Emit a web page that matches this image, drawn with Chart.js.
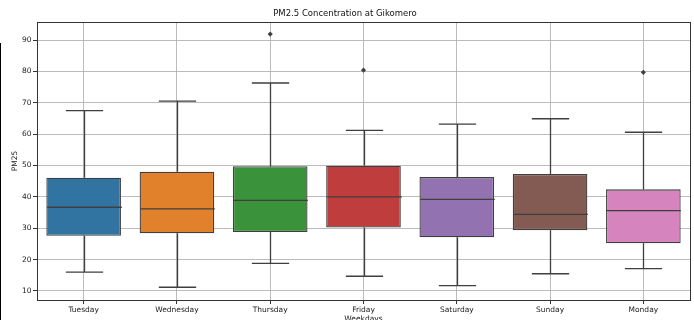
<!DOCTYPE html>
<html>
<head>
<meta charset="utf-8">
<script src="https://cdn.jsdelivr.net/npm/chart.js@4.4.1/dist/chart.umd.min.js"></script>
<style>
    html, body { margin: 0; padding: 0; background: #fff; overflow: hidden; }
    #wrap { position: relative; width: 694px; height: 320px; overflow: hidden; }
    #boxChart { display: block; }
    #edge { position: absolute; left: 0; top: 43px; width: 1px; height: 277px; background: #000; }
</style>
</head>
<body>
<div id="wrap">
    <canvas id="boxChart" width="694" height="330"></canvas>
    <div id="edge"></div>
</div>
<script>
// Box plot values (PM25 by weekday)
var days = ['Tuesday', 'Wednesday', 'Thursday', 'Friday', 'Saturday', 'Sunday', 'Monday'];
var lowWhisker = [16.0, 11.2, 18.8, 14.7, 11.7, 15.5, 17.1];
var q1 = [27.6, 28.4, 28.8, 30.2, 27.1, 29.4, 25.2];
var median = [36.7, 36.2, 38.9, 40.0, 39.2, 34.4, 35.6];
var q3 = [46.1, 48.0, 49.8, 49.9, 46.3, 47.3, 42.4];
var highWhisker = [67.5, 70.5, 76.3, 61.2, 63.2, 64.9, 60.6];
var outliers = [null, null, 91.9, 80.4, null, null, 79.7];
var yTicks = [10, 20, 30, 40, 50, 60, 70, 80, 90];
var boxColors = ['#3274a1', '#e1812c', '#3a923a', '#c03d3e', '#9372b2', '#845b53', '#d684bd'];

var lineColor = '#3f3f3f';
var gridColor = 'rgba(176, 176, 176, 0.85)';
var font = 'DejaVu Sans';

// Whiskers, caps, medians and the axes frame, drawn on top of the grid
var boxPlotLines = {
    id: 'boxPlotLines',
    afterDraw: function(chart) {
        var ctx = chart.ctx;
        var xs = chart.scales.x;
        var ys = chart.scales.y;
        var bars = chart.getDatasetMeta(0).data;
        ctx.save();
        ctx.strokeStyle = lineColor;
        ctx.lineWidth = 1.3;
        days.forEach(function(day, i) {
            var x = Math.round(xs.getPixelForValue(i)) + 0.5;
            var half = bars[i].width / 2;
            var cap = half / 2;
            var yHigh = ys.getPixelForValue(highWhisker[i]);
            var yLow = ys.getPixelForValue(lowWhisker[i]);
            var yMed = ys.getPixelForValue(median[i]);
            ctx.beginPath();
            ctx.moveTo(x, ys.getPixelForValue(q3[i]));
            ctx.lineTo(x, yHigh);
            ctx.moveTo(x, ys.getPixelForValue(q1[i]));
            ctx.lineTo(x, yLow);
            ctx.moveTo(x - cap, yHigh);
            ctx.lineTo(x + cap, yHigh);
            ctx.moveTo(x - cap, yLow);
            ctx.lineTo(x + cap, yLow);
            ctx.moveTo(x - half, yMed);
            ctx.lineTo(x + half, yMed);
            ctx.stroke();
        });
        var a = chart.chartArea;
        ctx.strokeStyle = '#333';
        ctx.lineWidth = 1;
        ctx.strokeRect(Math.round(a.left) + 0.5, Math.round(a.top) + 0.5,
            Math.round(a.right - a.left), Math.round(a.bottom - a.top));
        ctx.restore();
    }
};

var ctx = document.getElementById('boxChart').getContext('2d');
var chart = new Chart(ctx, {
    type: 'bar',
    data: {
        labels: days,
        datasets: [
            {
                label: 'PM25',
                data: days.map(function(d, i) { return [q1[i], q3[i]]; }),
                backgroundColor: boxColors,
                borderColor: lineColor,
                borderWidth: 1.3,
                borderSkipped: false,
                barPercentage: 0.8,
                categoryPercentage: 1.0
            },
            {
                type: 'line',
                label: 'Outliers',
                data: outliers,
                showLine: false,
                pointStyle: 'rectRot',
                pointRadius: 2.6,
                pointBackgroundColor: lineColor,
                pointBorderColor: lineColor,
                pointBorderWidth: 0
            }
        ]
    },
    options: {
        responsive: false,
        animation: false,
        layout: {
            padding: { left: 0, right: 4, top: 0, bottom: 0 }
        },
        plugins: {
            legend: { display: false },
            tooltip: { enabled: false },
            title: {
                display: true,
                text: 'PM2.5 Concentration at Gikomero',
                color: '#111',
                font: { family: font, size: 8.5, weight: 'normal' },
                padding: { top: 9, bottom: 2.8 }
            }
        },
        scales: {
            x: {
                z: 1,
                offset: true,
                afterFit: function(scale) { scale.height = 30; },
                grid: {
                    offset: false,
                    color: gridColor,
                    lineWidth: 1,
                    tickColor: '#333',
                    tickLength: 4
                },
                border: { display: false },
                ticks: {
                    color: '#222',
                    padding: 2,
                    maxRotation: 0,
                    font: { family: font, size: 7.5 }
                },
                title: {
                    display: true,
                    text: 'Weekdays',
                    color: '#222',
                    font: { family: font, size: 7.5 },
                    padding: { top: 0, bottom: 6.5 }
                }
            },
            y: {
                z: 1,
                min: 7.13,
                max: 95.74,
                afterFit: function(scale) { scale.width = 37; },
                afterBuildTicks: function(scale) {
                    scale.ticks = yTicks.map(function(v) { return { value: v }; });
                },
                grid: {
                    color: gridColor,
                    lineWidth: 1,
                    tickColor: '#333',
                    tickLength: 4
                },
                border: { display: false },
                ticks: {
                    color: '#222',
                    padding: 1.5,
                    font: { family: font, size: 7.5 }
                },
                title: {
                    display: true,
                    text: 'PM25',
                    color: '#222',
                    font: { family: font, size: 7.5 },
                    padding: { top: 11, bottom: 0 }
                }
            }
        }
    },
    plugins: [boxPlotLines]
});
</script>
</body>
</html>
